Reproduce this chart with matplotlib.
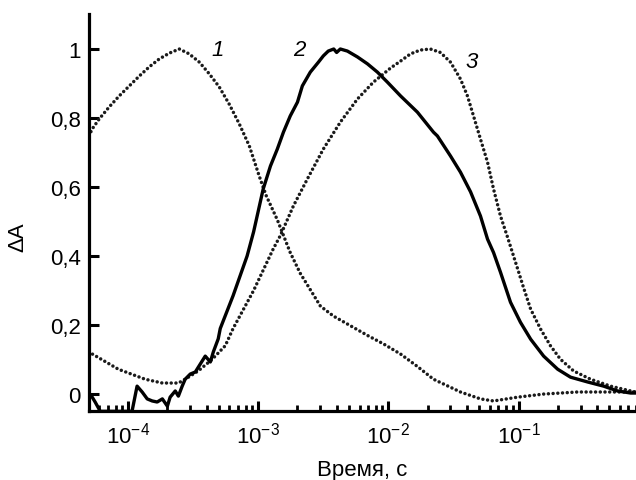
import numpy as np
import matplotlib
matplotlib.use("Agg")
from matplotlib import pyplot as plt
import matplotlib.ticker as ticker

plt.rcParams['font.family'] = ['Liberation Sans', 'DejaVu Sans']
plt.rcParams['mathtext.fontset'] = 'custom'
plt.rcParams['mathtext.rm'] = 'Liberation Sans'
plt.rcParams['mathtext.it'] = 'Liberation Sans:italic'

# curve 1 (dotted, early peak)
t1 = [5.0e-5, 5.28e-5, 5.98e-5, 7.14e-5, 8.53e-5, 1.02e-4, 1.22e-4, 1.45e-4, 1.73e-4,
      2.07e-4, 2.47e-4, 2.94e-4, 3.52e-4, 4.20e-4, 5.01e-4, 5.98e-4, 7.14e-4, 8.53e-4,
      1.02e-3, 1.15e-3, 1.40e-3, 1.76e-3, 2.10e-3, 3.0e-3, 3.78e-3, 6.9e-3, 9.2e-3,
      1.24e-2, 1.67e-2, 2.22e-2, 3.58e-2, 5.1e-2, 6.43e-2, 9.82e-2, 0.156, 0.284,
      0.51, 0.8]
a1 = [0.748, 0.768, 0.797, 0.832, 0.864, 0.893, 0.922, 0.948, 0.971,
      0.988, 1.0, 0.986, 0.962, 0.928, 0.89, 0.84, 0.783, 0.719,
      0.63, 0.575, 0.505, 0.41, 0.35, 0.255, 0.226, 0.17, 0.145,
      0.116, 0.08, 0.043, 0.006, -0.014, -0.02, -0.009, 0.0, 0.006,
      0.006, 0.006]

# curve 2 (solid, noisy)
t2 = [5.0e-5, 5.29e-5, 5.57e-5, 6.1e-5, 1.07e-4, 1.17e-4, 1.28e-4, 1.40e-4, 1.53e-4,
      1.67e-4, 1.83e-4, 2.0e-4, 2.10e-4, 2.30e-4, 2.43e-4, 2.60e-4, 2.74e-4, 3.0e-4,
      3.28e-4, 3.58e-4, 3.91e-4, 4.28e-4, 4.51e-4, 4.92e-4, 5.1e-4, 6.4e-4, 8.2e-4,
      9.2e-4, 1.09e-3, 1.24e-3, 1.40e-3, 1.56e-3, 1.76e-3, 2.0e-3, 2.18e-3, 2.51e-3,
      2.9e-3, 3.16e-3, 3.45e-3, 3.8e-3, 4.0e-3, 4.27e-3, 4.84e-3, 5.78e-3, 6.9e-3,
      8.23e-3, 9.82e-3, 1.24e-2, 1.67e-2, 2.22e-2, 2.38e-2, 3.0e-2, 3.58e-2, 4.28e-2,
      5.1e-2, 5.78e-2, 6.43e-2, 7.27e-2, 8.68e-2, 0.1035, 0.124, 0.156, 0.20,
      0.251, 0.34, 0.451, 0.578, 0.728, 0.8]
a2 = [0.0, -0.009, -0.023, -0.05, -0.05, 0.023, 0.006, -0.014, -0.02,
      -0.023, -0.014, -0.035, -0.009, 0.009, -0.006, 0.023, 0.043, 0.058,
      0.064, 0.087, 0.11, 0.093, 0.122, 0.16, 0.19, 0.285, 0.40,
      0.47, 0.594, 0.661, 0.71, 0.759, 0.806, 0.846, 0.893, 0.933,
      0.962, 0.98, 0.994, 1.0, 0.99, 1.0, 0.994, 0.977, 0.957,
      0.933, 0.904, 0.864, 0.817, 0.759, 0.748, 0.69, 0.643, 0.586,
      0.516, 0.449, 0.41, 0.353, 0.266, 0.208, 0.159, 0.11, 0.072,
      0.049, 0.035, 0.023, 0.009, 0.003, 0.003]

# curve 3 (dotted, late peak)
t3 = [5.0e-5, 5.3e-5, 8.4e-5, 1.35e-4, 1.83e-4, 2.43e-4, 2.74e-4, 3.45e-4, 4.4e-4,
      5.57e-4, 6.4e-4, 9.2e-4, 1.30e-3, 1.48e-3, 1.86e-3, 2.38e-3, 3.16e-3, 4.27e-3,
      5.78e-3, 7.67e-3, 1.04e-2, 1.24e-2, 1.48e-2, 1.76e-2, 2.10e-2, 2.51e-2, 3.0e-2,
      3.58e-2, 4.05e-2, 4.51e-2, 5.1e-2, 5.78e-2, 6.43e-2, 7.27e-2, 8.23e-2, 9.16e-2,
      0.1, 0.109, 0.124, 0.148, 0.176, 0.21, 0.265, 0.358, 0.51, 0.728, 0.8]
a3 = [0.125, 0.116, 0.072, 0.043, 0.032, 0.032, 0.043, 0.067, 0.10,
      0.14, 0.19, 0.30, 0.42, 0.46, 0.545, 0.623, 0.71, 0.788,
      0.855, 0.904, 0.945, 0.965, 0.986, 0.997, 1.0, 0.99, 0.962,
      0.913, 0.864, 0.806, 0.739, 0.672, 0.594, 0.516, 0.455, 0.40,
      0.355, 0.31, 0.246, 0.188, 0.14, 0.101, 0.067, 0.043, 0.023, 0.009, 0.006]

ytick_vals = [0, 0.2, 0.4, 0.6, 0.8, 1.0]
ytick_labels = ['0', '0,2', '0,4', '0,6', '0,8', '1']

fig = plt.figure(figsize=(6.36, 4.81), dpi=100)
ax = fig.add_axes((0.14, 0.1435, 0.86, 0.825))

dots = (0, (0.01, 1.35))
ax.plot(t1, a1, color='#1a1a1a', lw=2.5, linestyle=dots, dash_capstyle='round')
ax.plot(t3, a3, color='#1a1a1a', lw=2.5, linestyle=dots, dash_capstyle='round')
ax.plot(t2, a2, color='black', lw=2.4, solid_joinstyle='round')

ax.set_xscale('log')
ax.set_xlim(5e-5, 0.8)
ax.set_ylim(-0.049, 1.101)

ax.spines['top'].set_visible(False)
ax.spines['right'].set_visible(False)
ax.spines['left'].set_linewidth(2.3)
ax.spines['bottom'].set_linewidth(2.3)

ax.set_yticks(ytick_vals)
ax.set_yticklabels(ytick_labels)
ax.xaxis.set_major_locator(ticker.LogLocator(base=10, numticks=10))
ax.xaxis.set_minor_locator(ticker.LogLocator(base=10, subs=np.arange(2, 10), numticks=20))
ax.xaxis.set_minor_formatter(ticker.NullFormatter())
ax.tick_params(axis='both', which='major', direction='in', length=7, width=2.2,
               labelsize=16, colors='black')
ax.tick_params(axis='y', which='major', pad=6)
ax.tick_params(axis='x', which='major', pad=8)
ax.tick_params(axis='x', which='minor', direction='in', length=4, width=2)

ax.set_xlabel('Время, с', fontsize=16, labelpad=8)
ax.set_ylabel('ΔA', fontsize=16, labelpad=14)
ax.yaxis.set_label_coords(-0.11, 0.44)

ax.text(4.9e-4, 1.0, '1', fontsize=16, style='italic', ha='center', va='center')
ax.text(2.05e-3, 1.0, '2', fontsize=16, style='italic', ha='center', va='center')
ax.text(4.4e-2, 0.965, '3', fontsize=16, style='italic', ha='center', va='center')

fig.savefig('out.png', dpi=100)
